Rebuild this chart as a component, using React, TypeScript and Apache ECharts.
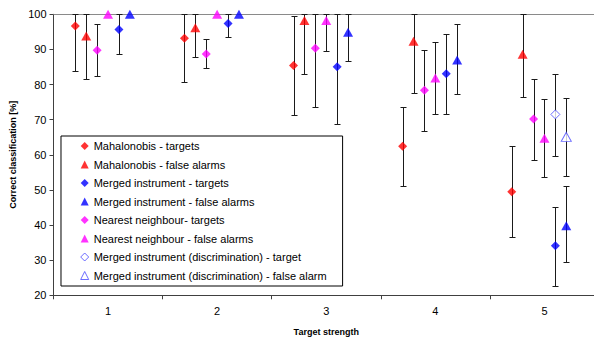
import React, { useEffect, useRef } from "react";
import * as echarts from "echarts";

const categories = ["1", "2", "3", "4", "5"];

const mahalTargets = [96.7, 93.2, 85.4, 62.4, 49.5];
const mahalTargetsLow = [83.9, 80.6, 71.3, 51.1, 36.7];
const mahalTargetsHigh = [100, 100, 99.5, 73.5, 62.4];

const mahalFalse = [93.8, 96.2, 98.2, 92.3, 88.6];
const mahalFalseLow = [81.5, 87.8, 83.0, 77.5, 76.5];
const mahalFalseHigh = [100, 100, 100, 100, 100];

const mergedTargets = [95.7, 97.4, 85.1, 83.1, 34.1];
const mergedTargetsLow = [88.8, 93.4, 68.9, 71.7, 22.6];
const mergedTargetsHigh = [100, 100, 100, 94.3, 45.2];

const mergedFalse = [100, 100, 94.9, 87.0, 39.8];
const mergedFalseLow = [null, null, 86.7, 77.2, 29.4];
const mergedFalseHigh = [null, null, 100, 97.2, 51.1];

const nnTargets = [89.8, 88.7, 90.3, 78.4, 70.2];
const nnTargetsLow = [82.4, 84.6, 73.6, 66.8, 58.4];
const nnTargetsHigh = [97.1, 92.9, 100, 89.8, 81.7];

const nnFalse = [100, 100, 98.2, 81.9, 64.7];
const nnFalseLow = [null, null, 89.6, 71.7, 53.8];
const nnFalseHigh = [null, null, 100, 92.1, 75.9];

const discTargets = [null, null, null, null, 71.5];
const discTargetsLow = [null, null, null, null, 59.8];
const discTargetsHigh = [null, null, null, null, 83.0];

const discFalse = [null, null, null, null, 65.1];
const discFalseLow = [null, null, null, null, 54.1];
const discFalseHigh = [null, null, null, null, 76.2];

const yTicks = { min: 20, max: 100, step: 10 };

type Row = {
  name: string;
  values: (number | null)[];
  low: (number | null)[];
  high: (number | null)[];
  offset: number;
  symbol: string;
  hollow: boolean;
  color: string;
};

const rows: Row[] = [
  { name: "Mahalonobis - targets", values: mahalTargets, low: mahalTargetsLow, high: mahalTargetsHigh, offset: -0.3, symbol: "diamond", hollow: false, color: "#FF0000" },
  { name: "Mahalonobis - false alarms", values: mahalFalse, low: mahalFalseLow, high: mahalFalseHigh, offset: -0.2, symbol: "triangle", hollow: false, color: "#FF0000" },
  { name: "Merged instrument - targets", values: mergedTargets, low: mergedTargetsLow, high: mergedTargetsHigh, offset: 0.1, symbol: "diamond", hollow: false, color: "#0000FF" },
  { name: "Merged instrument - false alarms", values: mergedFalse, low: mergedFalseLow, high: mergedFalseHigh, offset: 0.2, symbol: "triangle", hollow: false, color: "#0000FF" },
  { name: "Nearest neighbour- targets", values: nnTargets, low: nnTargetsLow, high: nnTargetsHigh, offset: -0.1, symbol: "diamond", hollow: false, color: "#FF00FF" },
  { name: "Nearest neighbour - false alarms", values: nnFalse, low: nnFalseLow, high: nnFalseHigh, offset: 0, symbol: "triangle", hollow: false, color: "#FF00FF" },
  { name: "Merged instrument (discrimination) - target", values: discTargets, low: discTargetsLow, high: discTargetsHigh, offset: 0.1, symbol: "diamond", hollow: true, color: "#4848ff" },
  { name: "Merged instrument (discrimination) - false alarm", values: discFalse, low: discFalseLow, high: discFalseHigh, offset: 0.2, symbol: "triangle", hollow: true, color: "#4848ff" },
];

const FONT = "'Liberation Sans', Arial, sans-serif";

export default function App() {
  const ref = useRef<HTMLDivElement>(null);

  useEffect(() => {
    if (!ref.current) return;
    const chart = echarts.init(ref.current, undefined, { renderer: "svg" });

    const errData: number[][] = [];
    rows.forEach((r) => {
      r.values.forEach((v, i) => {
        const lo = r.low[i];
        const hi = r.high[i];
        if (v != null && lo != null && hi != null) {
          errData.push([i + 1 + r.offset, lo, hi]);
        }
      });
    });

    const styleOf = (r: Row) =>
      r.hollow
        ? { color: "#ffffff", borderColor: r.color, borderWidth: 1 }
        : { color: r.color };

    const scatterSeries = rows.map((r, idx) => ({
      name: r.name,
      type: "scatter",
      xAxisIndex: 1,
      yAxisIndex: 0,
      symbol: r.symbol,
      symbolSize: r.symbol === "triangle" ? [10, 9] : 9,
      itemStyle: styleOf(r),
      z: 5,
      data: r.values
        .map((v, i) => (v == null ? null : [i + 1 + r.offset, v]))
        .filter((d) => d != null),
      ...(idx === 0
        ? {
            markLine: {
              silent: true,
              symbol: "none",
              label: { show: false },
              lineStyle: { color: "#8a8a8a", width: 1, type: "solid" },
              data: [{ yAxis: 100 }],
              z: 1,
            },
          }
        : {}),
    }));

    const option: any = {
      animation: false,
      backgroundColor: "#ffffff",
      textStyle: { fontFamily: FONT },
      grid: {
        left: 53.5,
        top: 14.3,
        width: 545.5,
        height: 281,
        containLabel: false,
        outerBoundsMode: "none",
      },
      legend: {
        orient: "vertical",
        left: 61,
        top: 136,
        padding: [4.5, 16, 5, 19.2],
        itemWidth: 8,
        itemHeight: 8,
        itemGap: 7.5,
        borderColor: "#000000",
        borderWidth: 1,
        backgroundColor: "#ffffff",
        textStyle: { fontFamily: FONT, fontSize: 11, color: "#000000" },
        data: rows.map((r) => ({
          name: r.name,
          icon: r.symbol,
          itemStyle: styleOf(r),
        })),
      },
      xAxis: [
        {
          type: "category",
          data: categories,
          boundaryGap: true,
          position: "bottom",
          axisLine: { lineStyle: { color: "#404040", width: 1 } },
          axisTick: { show: true, length: 4, inside: false, lineStyle: { color: "#404040" } },
          axisLabel: { fontFamily: FONT, fontSize: 11, color: "#000000", margin: 10 },
          splitLine: { show: false },
          name: "Target strength",
          nameLocation: "middle",
          nameGap: 32,
          nameTextStyle: { fontFamily: FONT, fontSize: 9, fontWeight: "bold", color: "#000000" },
        },
        {
          type: "value",
          min: 0.5,
          max: 5.5,
          show: false,
          splitLine: { show: false },
        },
      ],
      yAxis: {
        type: "value",
        min: yTicks.min,
        max: yTicks.max,
        interval: yTicks.step,
        axisLine: { show: true, lineStyle: { color: "#404040", width: 1 } },
        axisTick: { show: true, length: 4, inside: false, lineStyle: { color: "#404040" } },
        axisLabel: { fontFamily: FONT, fontSize: 11, color: "#000000", margin: 7 },
        splitLine: { show: false },
        name: "Correct classification [%]",
        nameLocation: "middle",
        nameRotate: 90,
        nameGap: 34,
        nameTextStyle: { fontFamily: FONT, fontSize: 9, fontWeight: "bold", color: "#000000" },
      },
      series: [
        {
          type: "custom",
          name: "errors",
          xAxisIndex: 1,
          yAxisIndex: 0,
          z: 2,
          silent: true,
          data: errData,
          renderItem: (params: any, api: any) => {
            const x = api.value(0);
            const lo = api.value(1);
            const hi = api.value(2);
            const pHi = api.coord([x, hi]);
            const pLo = api.coord([x, lo]);
            const cx = Math.round(pHi[0]) + 0.5;
            const yh = Math.round(pHi[1]) + 0.5;
            const yl = Math.round(pLo[1]) + 0.5;
            const style = { stroke: "#1a1a1a", lineWidth: 1 };
            return {
              type: "group",
              children: [
                { type: "line", shape: { x1: cx, y1: yh, x2: cx, y2: yl }, style },
                { type: "line", shape: { x1: cx - 3, y1: yh, x2: cx + 3, y2: yh }, style },
                { type: "line", shape: { x1: cx - 3, y1: yl, x2: cx + 3, y2: yl }, style },
              ],
            };
          },
        },
        ...scatterSeries,
      ],
    };

    chart.setOption(option);
    return () => chart.dispose();
  }, []);

  return (
    <div
      ref={ref}
      style={{ position: "fixed", left: 0, top: 0, width: 594, height: 337, background: "#fff" }}
    />
  );
}
